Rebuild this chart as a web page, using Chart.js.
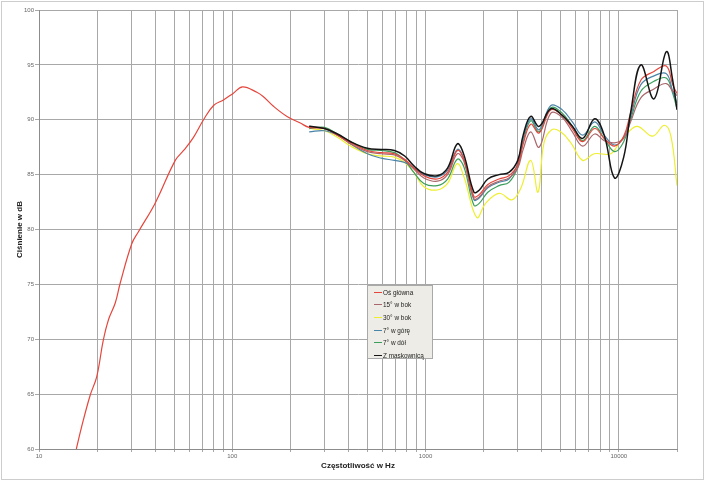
<!DOCTYPE html>
<html lang="pl">
<head>
<meta charset="utf-8">
<title>Charakterystyka przetwarzania</title>
<script src="https://cdn.jsdelivr.net/npm/chart.js@4.4.1/dist/chart.umd.min.js"></script>
<style>
    html, body { margin: 0; padding: 0; background: #fff; }
    #wrap { position: relative; width: 705px; height: 481px; }
    #legenda {
        position: absolute; left: 367px; top: 285px; width: 66px; height: 74px;
        box-sizing: border-box; background: #edece6; border: 1px solid #a9a9a9;
        font: 6.4px "Liberation Sans", Arial, sans-serif; color: #222;
    }
    .poz { height: 12.6px; display: flex; align-items: center; white-space: nowrap; }
    .kreska { width: 8px; height: 1px; margin-left: 6px; margin-right: 1px; }
</style>
</head>
<body>
<div id="wrap">
    <canvas id="wykres" width="705" height="481"></canvas>
    <div id="legenda"></div>
</div>
<script>
// niskie częstotliwości - tylko oś główna
const czestOsNiskie = [15.6, 16.6, 18.4, 19.9, 21.5, 22.9, 24.8, 26.3, 30.2, 32.7, 39.9, 50.7, 56, 63, 71, 80, 90, 101, 113, 134, 145, 164, 192, 225];
const dbOsNiskie = [60, 62.0, 64.9, 66.6, 69.9, 71.8, 73.3, 75.1, 78.7, 79.8, 82.4, 86.3, 87.2, 88.4, 90.0, 91.3, 91.8, 92.4, 93.0, 92.5, 92.1, 91.2, 90.3, 89.7];

// wspólne punkty pomiarowe od 250 Hz
const czestotliwosci = [250, 300, 350, 410, 500, 590, 690, 780, 870, 980, 1150, 1300, 1460, 1580, 1780, 1900, 2100, 2400, 2700,
    3000, 3200, 3500, 3870, 4450, 5100, 5750, 6500, 7500, 8400, 9500, 10600, 11500, 13000, 15200, 17600, 19000, 20000];

const osGlowna = [89.3, 89.2, 88.6, 87.9, 87.2, 87.0, 86.9, 86.4, 85.6, 84.9, 84.6, 85.2, 87.2, 86.4, 83.0, 83.2, 84.1, 84.6, 84.9,
    85.9, 87.8, 89.6, 88.8, 90.9, 90.4, 89.2, 88.0, 89.2, 88.3, 87.6, 88.5, 90.6, 93.6, 94.4, 94.9, 93.2, 92.4];
const bok15 = [89.4, 89.2, 88.6, 87.8, 87.1, 86.9, 86.8, 86.3, 85.5, 84.7, 84.4, 85.0, 86.9, 86.2, 82.8, 83.0, 83.9, 84.4, 84.7,
    85.6, 87.3, 88.9, 87.5, 90.6, 90.2, 88.9, 87.6, 88.7, 88.1, 87.9, 88.3, 89.8, 92.0, 92.8, 93.3, 92.6, 92.2];
const gora7 = [88.9, 89.0, 88.6, 87.8, 86.9, 86.5, 86.3, 86.1, 85.6, 85.0, 84.8, 85.4, 87.3, 86.4, 82.7, 82.9, 83.8, 84.3, 84.6,
    86.0, 88.3, 90.1, 89.1, 91.3, 90.9, 89.8, 88.6, 89.8, 88.6, 87.7, 88.4, 90.3, 93.2, 94.0, 94.2, 92.6, 91.5];
const dol7 = [89.2, 89.3, 88.7, 88.0, 87.3, 87.2, 87.0, 86.3, 85.2, 84.2, 84.0, 84.6, 86.4, 85.7, 82.2, 82.4, 83.4, 84.0, 84.3,
    85.7, 88.0, 89.9, 88.9, 91.1, 90.6, 89.4, 88.1, 89.4, 88.3, 87.1, 88.0, 90.0, 92.6, 93.5, 93.8, 92.4, 91.0];
const maskownica = [89.4, 89.2, 88.7, 88.0, 87.4, 87.3, 87.2, 86.7, 85.8, 85.1, 84.9, 85.6, 87.8, 86.8, 83.4, 83.6, 84.6, 85.0, 85.2,
    86.3, 88.6, 90.3, 89.4, 91.0, 90.4, 89.4, 88.3, 90.1, 88.6, 84.7, 86.6, 90.6, 95.0, 91.9, 96.2, 93.6, 90.9];

// 30° w bok ma własne punkty
const czest30 = [250, 300, 350, 410, 500, 590, 690, 780, 870, 980, 1150, 1300, 1460, 1580, 1840, 2050, 2400, 2800, 3100, 3500,
    3820, 4100, 4500, 5000, 5650, 6500, 7450, 9100, 10050, 11100, 12500, 14950, 17200, 18600, 20000];
const bok30 = [89.2, 89.0, 88.4, 87.6, 86.9, 86.7, 86.6, 86.1, 85.2, 83.9, 83.6, 84.2, 86.0, 84.8, 81.1, 82.4, 83.3, 82.7, 83.7, 86.3,
    83.4, 87.9, 89.1, 88.9, 87.9, 86.3, 86.9, 86.9, 87.9, 88.8, 89.4, 88.5, 89.5, 88.5, 84.0];

const etykietyX = [10, 100, 1000, 10000];
const etykiety = ['Oś główna', '15° w bok', '30° w bok', '7° w górę', '7° w dół', 'Z maskownicą'];
const kolory = ['#e5463c', '#a9676b', '#eeee30', '#4a84a8', '#3c9e5c', '#151515'];

function punkty(czest, wartosci) {
    return czest.map((f, i) => ({ x: f, y: wartosci[i] }));
}

function liniePionowe() {
    const linie = [];
    for (let dekada = 10; dekada <= 10000; dekada *= 10) {
        for (let k = 1; k <= 9; k++) linie.push(dekada * k);
    }
    linie.push(20000);
    return linie.filter(v => v <= 20000);
}

function rysujLegende() {
    const leg = document.getElementById('legenda');
    etykiety.forEach((tekst, i) => {
        const wiersz = document.createElement('div');
        wiersz.className = 'poz';
        const kreska = document.createElement('span');
        kreska.className = 'kreska';
        kreska.style.background = kolory[i];
        const opis = document.createElement('span');
        opis.textContent = tekst;
        wiersz.appendChild(kreska);
        wiersz.appendChild(opis);
        leg.appendChild(wiersz);
    });
}

const ramka = {
    id: 'ramka',
    beforeDraw(chart) {
        const c = chart.ctx;
        c.save();
        c.fillStyle = '#fff';
        c.fillRect(0, 0, chart.width, chart.height);
        c.strokeStyle = '#cdcdcd';
        c.lineWidth = 1;
        c.strokeRect(1.5, 1.5, chart.width - 3, chart.height - 3);
        c.restore();
    }
};

function rysujWykres() {
    Chart.defaults.font.family = '"Liberation Sans", Arial, sans-serif';
    const zestawy = [
        punkty(czestOsNiskie.concat(czestotliwosci), dbOsNiskie.concat(osGlowna)),
        punkty(czestotliwosci, bok15),
        punkty(czest30, bok30),
        punkty(czestotliwosci, gora7),
        punkty(czestotliwosci, dol7),
        punkty(czestotliwosci, maskownica)
    ];
    const kolejnosc = [1, 2, 3, 2, 2, 0];

    new Chart(document.getElementById('wykres').getContext('2d'), {
        type: 'line',
        data: {
            datasets: zestawy.map((dane, i) => ({
                label: etykiety[i],
                data: dane,
                borderColor: kolory[i],
                borderWidth: i === 5 ? 1.5 : 1.2,
                pointRadius: 0,
                tension: 0.4,
                fill: false,
                order: kolejnosc[i]
            }))
        },
        options: {
            responsive: false,
            animation: false,
            layout: { padding: { top: 10, right: 28, left: 0, bottom: 0 } },
            plugins: {
                legend: { display: false },
                tooltip: { enabled: false }
            },
            scales: {
                x: {
                    type: 'logarithmic',
                    min: 10,
                    max: 20000,
                    afterBuildTicks: s => { s.ticks = liniePionowe().map(v => ({ value: v })); },
                    afterFit: s => { s.height = 32; },
                    ticks: {
                        autoSkip: false,
                        maxRotation: 0,
                        font: { size: 6 },
                        color: '#666',
                        padding: 1,
                        callback: v => etykietyX.includes(v) ? String(v) : ''
                    },
                    grid: { color: '#a8a8a8', tickLength: 3 },
                    border: { color: '#8c8c8c' },
                    title: {
                        display: true,
                        text: 'Częstotliwość w Hz',
                        font: { size: 8, weight: 'bold' },
                        color: '#222',
                        padding: { top: 0, bottom: 10 }
                    }
                },
                y: {
                    min: 60,
                    max: 100,
                    afterFit: s => { s.width = 39; },
                    ticks: { stepSize: 5, font: { size: 6 }, color: '#666', padding: 1 },
                    grid: { color: '#a8a8a8', tickLength: 4 },
                    border: { color: '#8c8c8c' },
                    title: {
                        display: true,
                        text: 'Ciśnienie w dB',
                        font: { size: 8, weight: 'bold' },
                        color: '#222',
                        padding: { top: 15, bottom: 0 }
                    }
                }
            }
        },
        plugins: [ramka]
    });
}

document.addEventListener('DOMContentLoaded', () => {
    rysujWykres();
    rysujLegende();
});
</script>
</body>
</html>
